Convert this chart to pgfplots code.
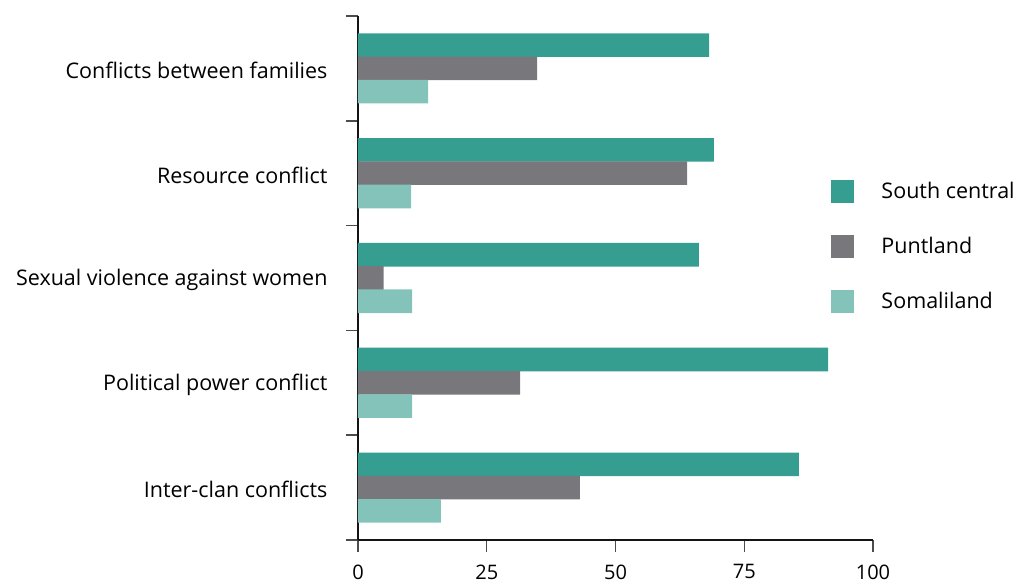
\documentclass[border=0pt]{standalone}
\usepackage{pgfplots}
\pgfplotsset{compat=1.18}
\usepackage{fontspec}
\setmainfont{Open Sans}
\definecolor{sc}{RGB}{53,158,145}
\definecolor{pl}{RGB}{120,120,124}
\definecolor{sl}{RGB}{132,195,185}
\definecolor{axc}{RGB}{20,20,20}
\begin{document}
\begin{tikzpicture}
\begin{axis}[
  font=\fontsize{21.5}{26}\selectfont,
  scale only axis,
  width=515pt, height=524pt,
  xmin=0, xmax=100,
  ymin=-0.5, ymax=4.5,
  axis lines*=left,
  axis line style={line width=2pt, color=axc},
  xtick={0,25,50,75,100},
  tick align=outside,
  major tick length=12pt,
  tick style={line width=1.5pt, color=black!70},
  ytick={-0.5,0.5,1.5,2.5,3.5,4.5},
  yticklabels={},
  extra y ticks={0,1,2,3,4},
  extra y tick labels={Inter-clan conflicts,Political power conflict,Sexual violence against women,Resource conflict,Conflicts between families},
  extra y tick style={major tick length=0pt, yticklabel style={xshift=-27pt, yshift=-2pt}},
  /pgf/number format/assume math mode=true,
  xticklabel style={yshift=-9pt, font=\fontsize{20}{24}\selectfont},
  xbar, bar width=0.225,
  clip=false,
  legend cell align=left,
  legend image code/.code={\fill[#1,draw=none] (0pt,-11.5pt) rectangle (23pt,11.5pt);},
  legend style={at={(rel axis cs:0.919,0.688)}, anchor=north west, draw=none, fill=none, inner sep=0pt, row sep=32pt,
    /tikz/every odd column/.append style={column sep=25pt}},
]
\addplot[fill=sc, draw=none, bar shift=0.222] coordinates {(85.6,0) (91.3,1) (66.2,2) (69.1,3) (68.2,4)};
\addlegendentry{South central}
\addplot[fill=pl, draw=none, bar shift=0] coordinates {(43.1,0) (31.5,1) (5.0,2) (63.9,3) (34.8,4)};
\addlegendentry{Puntland}
\addplot[fill=sl, draw=none, bar shift=-0.222] coordinates {(16.1,0) (10.5,1) (10.5,2) (10.3,3) (13.6,4)};
\addlegendentry{Somaliland}
\path (rel axis cs:0,0) ++(-358pt,-41pt) rectangle ++(1017pt,581pt);
\end{axis}
\end{tikzpicture}
\end{document}
